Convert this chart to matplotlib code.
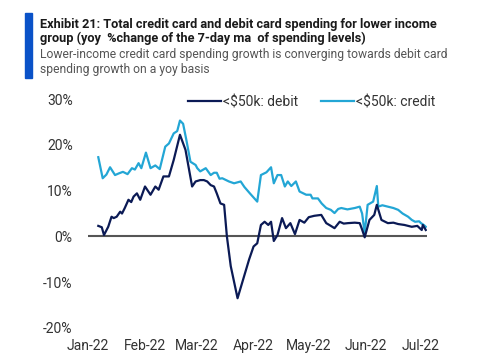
import matplotlib
matplotlib.use("Agg")
import matplotlib.pyplot as plt
import matplotlib.dates as mdates
import pandas as pd

# days since 2022-01-01, yoy % change
credit_days = [5.6, 8, 10, 12, 14.7, 17, 19, 21.5, 23.9, 25.5, 27.5, 29, 31.5, 34, 36.6, 39,
               42, 44, 46.6, 48.5, 50, 51.7, 53.5, 55.7, 58.5, 59.4, 61, 64, 66.7, 68.5, 70,
               71.5, 73, 76.6, 79.4, 83, 85, 88, 90, 92, 94, 97, 99.5, 101, 103, 105, 107,
               108.6, 110.5, 113, 115, 118.6, 121, 122, 125, 127, 129.5, 132, 134, 136,
               137.7, 141, 145, 147.7, 149, 150.4, 152, 155, 157, 157.8, 160, 163, 166,
               168.6, 171, 174, 176, 177.8, 180, 181, 182.5, 183.6]
credit_vals = [17.3, 12.7, 13.5, 15.1, 13.4, 13.8, 14.1, 13.6, 14.9, 14.6, 16.0, 14.9, 18.3,
               14.9, 15.5, 14.7, 19.6, 20.3, 22.5, 23.0, 25.3, 24.6, 21.0, 16.3, 15.6, 14.9,
               14.2, 14.9, 13.4, 13.9, 13.9, 12.6, 12.7, 12.0, 11.6, 12.0, 10.8, 9.4, 8.5,
               7.6, 13.4, 14.0, 15.1, 11.6, 13.4, 13.4, 10.9, 12.0, 11.0, 12.0, 9.8, 9.1,
               9.1, 8.3, 8.3, 7.2, 6.2, 5.8, 5.1, 6.0, 6.2, 5.9, 6.2, 6.5, 5.0, 0.7, 6.9,
               7.6, 11.0, 6.5, 6.8, 6.5, 6.2, 5.8, 5.0, 4.3, 3.6, 3.2, 3.3, 2.9, 2.5, 2.1]

debit_days = [5.6, 7.5, 8.7, 11, 12.8, 14, 15.6, 17.5, 18.5, 20, 22, 23.5, 24.8, 26.6, 28.4,
              31, 34, 36.6, 38.4, 41, 44, 46.6, 50, 53, 56.6, 58.5, 61, 63, 64.8, 66.7,
              68.5, 70, 72, 74, 75.5, 77.6, 81.3, 85, 87.6, 90, 92, 94, 96, 98, 99.5, 101,
              103, 105.5, 107.6, 110, 112.5, 115, 117.6, 120, 123, 126.8, 129.5, 132, 134,
              136.8, 139, 141.3, 145, 147.7, 149, 150.4, 153, 155.6, 157, 159.5, 163, 166,
              168.6, 172, 176, 179, 181.4, 182, 183.6]
debit_vals = [2.3, 2.0, 0.3, 2.1, 4.3, 4.0, 4.3, 5.4, 5.0, 6.2, 8.0, 7.5, 8.7, 9.4, 8.0,
              10.9, 9.1, 10.9, 10.2, 13.1, 13.1, 16.7, 22.2, 18.9, 10.9, 12.0, 12.3, 12.3,
              12.0, 11.2, 10.9, 9.4, 7.2, 6.9, 0.0, -6.5, -13.5, -8.5, -5.0, -2.2, -1.5,
              2.5, 3.2, 2.5, 3.2, -1.0, 0.3, 4.0, 1.8, 2.9, 0.5, 3.6, 3.0, 4.2, 4.5, 4.7,
              2.9, 2.3, 1.8, 3.2, 2.8, 2.9, 3.0, 2.9, 1.5, -0.2, 3.6, 4.7, 6.9, 3.6, 2.9,
              3.0, 2.7, 2.5, 2.1, 2.3, 1.4, 2.5, 1.4]

start = pd.Timestamp("2022-01-01")
credit_dates = start + pd.to_timedelta(credit_days, unit="D")
debit_dates = start + pd.to_timedelta(debit_days, unit="D")

plt.rcParams['font.family'] = ['Roboto', 'DejaVu Sans']

fig = plt.figure(figsize=(4.85, 3.6), dpi=100)
ax = fig.add_axes([0.1814, 0.0889, 0.698, 0.636])

navy = "#0b1a55"
light = "#23a6d5"
ax.axhline(0, color="#555555", lw=1.5, zorder=1)
ax.plot(debit_dates, debit_vals, color=navy, lw=1.6, label="<$50k: debit", zorder=3)
ax.plot(credit_dates, credit_vals, color=light, lw=1.6, label="<$50k: credit", zorder=2)

ax.set_ylim(-20, 30)
ax.set_xlim(start, start + pd.Timedelta(days=184))
ax.set_yticks([-20, -10, 0, 10, 20, 30])
ax.set_yticklabels(["-20%", "-10%", "0%", "10%", "20%", "30%"])
ax.xaxis.set_major_locator(mdates.MonthLocator())
ax.xaxis.set_major_formatter(mdates.DateFormatter("%b-%y"))
for s in ax.spines.values():
    s.set_visible(False)
ax.tick_params(length=0, labelsize=10, colors="#333333")
ax.tick_params(axis="y", pad=11)
ax.tick_params(axis="x", pad=8)

ax.legend(loc="upper left", bbox_to_anchor=(188 / 485, 1 - 95 / 360),
          bbox_transform=fig.transFigure, ncol=2, frameon=False, borderpad=0,
          borderaxespad=0, fontsize=10, handlelength=2.4, columnspacing=1.6,
          handletextpad=0.15, labelcolor="#333333")

# header
fig.patches.append(plt.Rectangle((25 / 485, 1 - 78 / 360), 7 / 485, 65 / 360,
                                 transform=fig.transFigure, color="#0a52c8"))
fig.text(40 / 485, 1 - 28 / 360, "Exhibit 21: Total credit card and debit card spending for lower income",
         fontsize=9.2, fontweight="bold", color="#1a1a1a")
fig.text(40 / 485, 1 - 42 / 360, "group (yoy  %change of the 7-day ma  of spending levels)",
         fontsize=9.2, fontweight="bold", color="#1a1a1a")
fig.text(40 / 485, 1 - 58 / 360, "Lower-income credit card spending growth is converging towards debit card",
         fontsize=8.7, color="#555555")
fig.text(40 / 485, 1 - 73 / 360, "spending growth on a yoy basis",
         fontsize=8.7, color="#555555")

fig.savefig("out.png", dpi=100)
